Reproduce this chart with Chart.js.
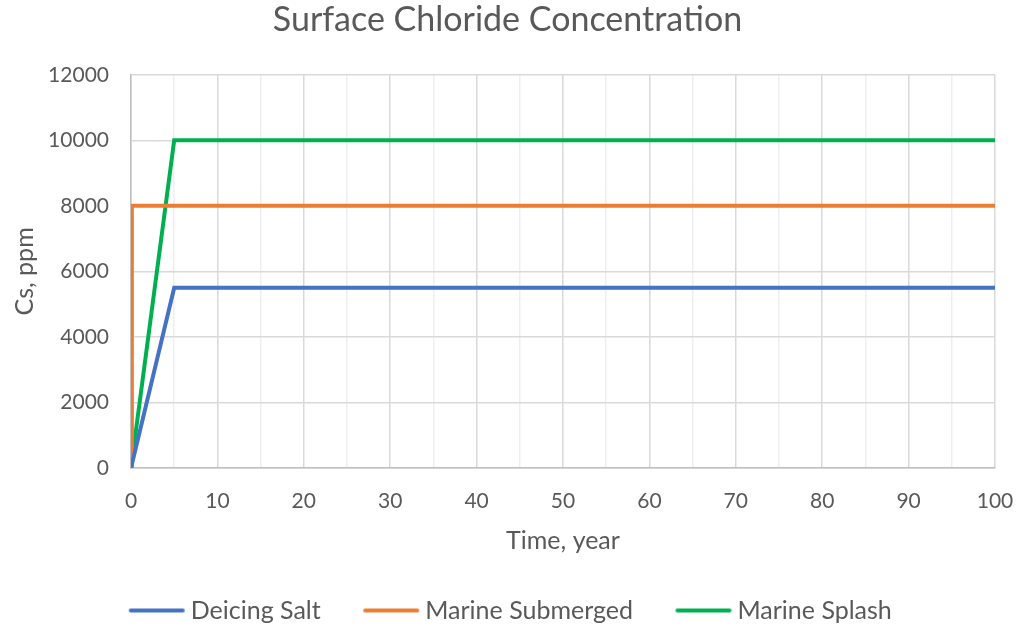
<!DOCTYPE html>
<html>
<head>
<meta charset="utf-8">
<script src="https://cdn.jsdelivr.net/npm/chart.js@4/dist/chart.umd.min.js"></script>
<style>
  html, body { margin: 0; padding: 0; background: #fff; }
  #wrap { width: 1018px; height: 626px; }
</style>
</head>
<body>
<div id="wrap"><canvas id="myChart" width="1018" height="626"></canvas></div>
<script>
// Series data: time (years) and surface chloride (ppm)
const deicingYears = [0, 5, 100];
const deicingCs = [0, 5500, 5500];

const submergedYears = [0, 0.1, 100];
const submergedCs = [0, 8000, 8000];

const splashYears = [0, 5, 100];
const splashCs = [0, 10000, 10000];

const seriesNames = ['Deicing Salt', 'Marine Submerged', 'Marine Splash'];
const seriesColors = ['#4472C4', '#ED7D31', '#00B050'];

// Pair x/y arrays into point objects
function toPoints(xs, ys) {
    return xs.map((x, i) => ({ x: x, y: ys[i] }));
}

// Legend marker: a short line drawn on a small canvas, shifted right so it sits close to its label
function legendMarker(color) {
    const c = document.createElement('canvas');
    c.width = 70;
    c.height = 8;
    const g = c.getContext('2d');
    g.strokeStyle = color;
    g.lineWidth = 4;
    g.lineCap = 'round';
    g.beginPath();
    g.moveTo(15, 4);
    g.lineTo(67, 4);
    g.stroke();
    return c;
}

const textColor = '#595959';
const fontFamily = 'Lato, "Open Sans", sans-serif';

Chart.defaults.font.family = fontFamily;
Chart.defaults.color = textColor;

const ctx = document.getElementById('myChart');

const data = {
    datasets: [
        {
            label: seriesNames[0],
            data: toPoints(deicingYears, deicingCs),
            borderColor: seriesColors[0],
            backgroundColor: seriesColors[0],
            borderWidth: 4,
        },
        {
            label: seriesNames[1],
            data: toPoints(submergedYears, submergedCs),
            borderColor: seriesColors[1],
            backgroundColor: seriesColors[1],
            borderWidth: 4,
        },
        {
            label: seriesNames[2],
            data: toPoints(splashYears, splashCs),
            borderColor: seriesColors[2],
            backgroundColor: seriesColors[2],
            borderWidth: 4,
        },
    ]
};

const config = {
    type: 'line',
    data: data,
    options: {
        responsive: false,
        animation: false,
        layout: {
            padding: { left: 20, right: 23, top: 0, bottom: -7 }
        },
        elements: {
            point: { radius: 0 },
            line: { tension: 0, borderCapStyle: 'butt', borderJoinStyle: 'miter' }
        },
        plugins: {
            title: {
                display: true,
                text: 'Surface Chloride Concentration',
                color: textColor,
                font: { size: 34, weight: 'normal' },
                padding: { top: 0, bottom: 34 }
            },
            legend: {
                position: 'bottom',
                labels: {
                    usePointStyle: true,
                    pointStyleWidth: 55,
                    color: textColor,
                    font: { size: 25 },
                    padding: 37,
                    generateLabels: (chart) => {
                        const items = Chart.defaults.plugins.legend.labels.generateLabels(chart);
                        items.forEach((item) => {
                            item.pointStyle = legendMarker(seriesColors[item.datasetIndex]);
                        });
                        return items;
                    }
                }
            },
            tooltip: { enabled: false }
        },
        scales: {
            x: {
                type: 'linear',
                min: 0,
                max: 100,
                ticks: {
                    stepSize: 5,
                    padding: 0,
                    font: { size: 21 },
                    color: textColor,
                    maxRotation: 0,
                    // minor gridlines every 5 years, labels every 10
                    callback: (v) => (v % 10 === 0 ? String(v) : '')
                },
                grid: {
                    // invisible tick marks just push the labels down
                    drawTicks: true,
                    tickLength: 21,
                    tickColor: 'rgba(0,0,0,0)',
                    lineWidth: 1.5,
                    color: (c) => (c.tick && c.tick.value % 10 === 0 ? '#d9d9d9' : '#efefef')
                },
                border: { display: true, color: '#bfbfbf', width: 1.5 },
                title: {
                    display: true,
                    text: 'Time, year',
                    color: textColor,
                    font: { size: 25 },
                    padding: { top: 0, bottom: 5 }
                },
                afterFit: (scale) => { scale.height = 93; }
            },
            y: {
                min: 0,
                max: 12000,
                ticks: {
                    stepSize: 2000,
                    padding: 22,
                    font: { size: 21 },
                    color: textColor,
                    callback: (v) => String(v)
                },
                grid: {
                    drawTicks: false,
                    lineWidth: 1.5,
                    color: '#d9d9d9'
                },
                border: { display: true, color: '#bfbfbf', width: 1.5 },
                title: {
                    display: true,
                    text: 'Cs, ppm',
                    color: textColor,
                    font: { size: 25 },
                    padding: { top: -10, bottom: 0 }
                },
                afterFit: (scale) => { scale.width = 111; }
            }
        }
    }
};

const myChart = new Chart(ctx, config);
</script>
</body>
</html>
